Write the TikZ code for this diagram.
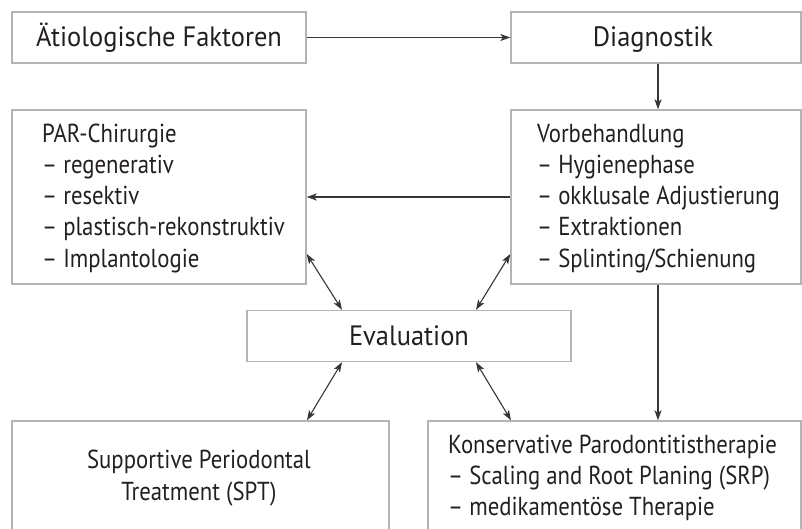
\documentclass[tikz,border=0pt]{standalone}
\usepackage{fontspec}
\setmainfont{PT Sans}
\newfontfamily\bigfont{PT Sans}[FakeStretch=0.945]
\newfontfamily\listfont{PT Sans}[FakeStretch=0.875]
\usetikzlibrary{arrows.meta,calc}
\definecolor{boxgray}{HTML}{B4B4B4}
\definecolor{ink}{HTML}{231F20}
\tikzset{
  box/.style={draw=boxgray, line width=1.4pt, rectangle, inner sep=0pt},
  conn/.style={draw=ink!90, line width=1.1pt, -{Stealth[length=10pt,width=7pt,inset=2.5pt]}},
  dconn/.style={draw=ink!90, line width=1.1pt, {Stealth[length=10pt,width=7pt,inset=2.5pt]}-{Stealth[length=10pt,width=7pt,inset=2.5pt]}},
  bigtxt/.style={text=ink, font=\bigfont\fontsize{28}{32}\selectfont, inner sep=0pt},
  listtxt/.style={text=ink, font=\listfont\fontsize{26}{31}\selectfont, inner sep=0pt, anchor=base west},
}
\begin{document}
\begin{tikzpicture}[x=1pt,y=-1pt]
\useasboundingbox (0,0) rectangle (802,529);
\clip (0,0) rectangle (802,529);
% boxes
\node[box, minimum width=294pt, minimum height=51pt] (aet) at (159,37.5) {};
\node[box, minimum width=290pt, minimum height=51pt] (diag) at (656,37.5) {};
\node[box, minimum width=294pt, minimum height=174pt] (par) at (159,197) {};
\node[box, minimum width=290pt, minimum height=174pt] (vb) at (656,197) {};
\node[box, minimum width=324pt, minimum height=51pt] (eval) at (409,336) {};
\node[box, minimum width=377pt, minimum height=120pt] (spt) at (200.5,481) {};
\node[box, minimum width=373pt, minimum height=120pt] (kons) at (614.5,481) {};
% texts
\node[bigtxt, anchor=base] (aett) at (159,47) {Ätiologische Faktoren};
\node[bigtxt, anchor=base] (diagt) at (653,47) {Diagnostik};
\node[bigtxt, anchor=base] (evalt) at (409,345) {Evaluation};
\node[listtxt] (par1) at (42,143) {PAR-Chirurgie};
\node[listtxt] (par2) at (42,174) {– regenerativ};
\node[listtxt] (par3) at (42,205) {– resektiv};
\node[listtxt] (par4) at (42,236) {– plastisch-rekonstruktiv};
\node[listtxt] (par5) at (42,267) {– Implantologie};
\node[listtxt] (vb1) at (537,143) {Vorbehandlung};
\node[listtxt] (vb2) at (537,174) {– Hygienephase};
\node[listtxt] (vb3) at (537,205) {– okklusale Adjustierung};
\node[listtxt] (vb4) at (537,236) {– Extraktionen};
\node[listtxt] (vb5) at (537,267) {– Splinting/Schienung};
\node[listtxt, anchor=base] (spt1) at (199,468) {Supportive Periodontal};
\node[listtxt, anchor=base] (spt2) at (199,500) {Treatment (SPT)};
\node[listtxt] (kons1) at (448,453) {Konservative Parodontitistherapie};
\node[listtxt] (kons2) at (448,484) {– Scaling and Root Planing (SRP)};
\node[listtxt] (kons3) at (448,515) {– medikamentöse Therapie};
% connectors
\draw[conn] (aet.east) -- (diag.west);
\draw[conn] (diag.south -| 658,0) -- (vb.north -| 658,0);
\draw[conn] (vb.west) -- (par.east);
\draw[conn] (vb.south -| 658,0) -- (kons.north -| 658,0);
\draw[dconn] (par.east |- 0,254) -- (eval.north -| 342,0);
\draw[dconn] (vb.west |- 0,254) -- (eval.north -| 476,0);
\draw[dconn] (eval.south -| 342,0) -- (spt.north -| 307,0);
\draw[dconn] (eval.south -| 476,0) -- (kons.north -| 511,0);
\end{tikzpicture}
\end{document}
